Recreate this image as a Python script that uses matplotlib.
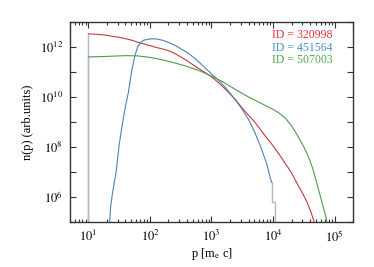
import matplotlib
matplotlib.use("Agg")
import matplotlib.pyplot as plt
import numpy as np
from matplotlib.ticker import LogLocator, NullFormatter, FixedLocator

# ---------------------------------------------------------------------------
# Data (log10 p, log10 n(p)) for each particle
# ---------------------------------------------------------------------------
ids = ["320998", "451564", "507003"]

red_logp = [1.0, 1.1, 1.2, 1.3, 1.4, 1.5, 1.6, 1.7, 1.8, 1.9, 2.0, 2.1, 2.2,
            2.3, 2.4, 2.5, 2.6, 2.75, 2.9, 3.0, 3.1, 3.25, 3.4, 3.5, 3.6,
            3.7, 3.8, 3.9, 4.0, 4.05, 4.1, 4.15, 4.2, 4.25, 4.3, 4.35, 4.4,
            4.45, 4.5, 4.55, 4.6, 4.65, 4.69]
red_logn = [12.52, 12.51, 12.49, 12.46, 12.42, 12.38, 12.33, 12.27, 12.19,
            12.12, 12.05, 11.98, 11.92, 11.85, 11.74, 11.6, 11.45, 11.2,
            10.97, 10.8, 10.6, 10.25, 9.86, 9.55, 9.27, 9.0, 8.68, 8.35,
            8.05, 7.87, 7.7, 7.52, 7.33, 7.15, 6.96, 6.73, 6.5, 6.28, 6.05,
            5.8, 5.5, 5.15, 4.8]

blue_logp = [1.34, 1.36, 1.40, 1.45, 1.50, 1.55, 1.60, 1.65, 1.70, 1.75,
             1.80, 1.85, 1.9, 2.0, 2.1, 2.2, 2.3, 2.4, 2.5, 2.6, 2.7, 2.8,
             2.9, 3.0, 3.1, 3.2, 3.3, 3.4, 3.5, 3.6, 3.7, 3.75, 3.8, 3.85,
             3.9, 3.94, 3.975]
blue_logn = [4.8, 5.6, 6.3, 7.0, 8.1, 8.9, 9.6, 10.2, 11.0, 11.6, 12.0,
             12.18, 12.27, 12.32, 12.32, 12.27, 12.18, 12.07, 11.93, 11.78,
             11.6, 11.38, 11.15, 10.92, 10.7, 10.45, 10.15, 9.84, 9.5, 9.1,
             8.6, 8.3, 8.0, 7.65, 7.3, 6.9, 6.6]
# last histogram bins of the blue particle, shown only in grey
blue_tail_logp = [3.975, 3.99, 4.03]
blue_tail_logn = [6.6, 5.8, 5.8]

green_logp = [1.0, 1.2, 1.4, 1.6, 1.8, 2.0, 2.2, 2.4, 2.6, 2.8, 3.0, 3.2,
              3.4, 3.6, 3.8, 4.0, 4.1, 4.2, 4.3, 4.4, 4.5, 4.55, 4.6, 4.65,
              4.7, 4.75, 4.8, 4.85, 4.88]
green_logn = [11.6, 11.61, 11.63, 11.65, 11.64, 11.58, 11.48, 11.36, 11.22,
              11.05, 10.83, 10.58, 10.28, 10.0, 9.75, 9.5, 9.35, 9.15, 8.85,
              8.45, 8.0, 7.75, 7.45, 7.1, 6.65, 6.2, 5.75, 5.3, 4.9]

series = [
    (red_logp, red_logn, "#c8373a", "#e8333a"),
    (blue_logp, blue_logn, "#4a82b8", "#4a8fcc"),
    (green_logp, green_logn, "#4f9a4a", "#4cae4c"),
]

plt.rcParams["font.family"] = ["Liberation Serif", "DejaVu Serif"]
plt.rcParams["mathtext.fontset"] = "stix"

fig = plt.figure(figsize=(3.74, 2.67), dpi=100)
ax = fig.add_axes([0.187, 0.169, 0.757, 0.749])

floor = 1.0  # below the axis, gives the vertical edges of the histograms
grey = "#b8b8b8"

# grey histogram edges: low-momentum cut of the red and green particles
for logp, logn in [(red_logp, red_logn), (green_logp, green_logn)]:
    ax.plot([10 ** logp[0]] * 2, [floor, 10 ** logn[0]], color=grey, lw=1.0,
            zorder=2)
# high-momentum end of the blue particle
tp = 10.0 ** np.array(blue_tail_logp)
tn = 10.0 ** np.array(blue_tail_logn)
ax.step(np.r_[tp, tp[-1]], np.r_[tn, floor], where="post", color=grey,
        lw=1.0, zorder=2)

for logp, logn, c_line, c_text in series:
    ax.plot(10.0 ** np.array(logp), 10.0 ** np.array(logn), color=c_line,
            lw=0.8, zorder=3)

ax.set_xscale("log")
ax.set_yscale("log")
ax.set_xlim(5, 2e5)
ax.set_ylim(1e5, 1e13)

ax.xaxis.set_minor_locator(LogLocator(base=10, subs=np.arange(2, 10), numticks=20))
ax.xaxis.set_minor_formatter(NullFormatter())
ax.set_xticks([10, 100, 1e3, 1e4, 1e5])
ax.set_xticklabels([r"$10^{1}$", r"$10^{2}$", r"$10^{3}$", r"$10^{4}$", r"$10^{5}$"])

ax.yaxis.set_major_locator(FixedLocator([1e6, 1e8, 1e10, 1e12]))
ax.yaxis.set_minor_locator(FixedLocator([1e5, 1e7, 1e9, 1e11, 1e13]))
ax.yaxis.set_minor_formatter(NullFormatter())
ax.set_yticklabels([r"$10^{6}$", r"$10^{8}$", r"$10^{10}$", r"$10^{12}$"])

ax.tick_params(which="both", direction="in", top=True, right=True,
               labelsize=9, color="#333333", width=0.8)
ax.tick_params(which="major", length=4, pad=5)
ax.tick_params(which="minor", length=2)
ax.tick_params(axis="y", which="minor", length=4)
for s in ax.spines.values():
    s.set_linewidth(1.0)
    s.set_color("#333333")

ax.set_xlabel(r"p [m$_\mathrm{e}$ c]", fontsize=9, labelpad=1)
ax.set_ylabel("n(p) (arb.units)", fontsize=9, labelpad=4)

for i, (ident, s) in enumerate(zip(ids, series)):
    ax.text(0.715, 0.935 - i * 0.064, f"ID = {ident}", color=s[3],
            transform=ax.transAxes, fontsize=8.5, ha="left", va="center")

fig.savefig("out.png", dpi=100)
